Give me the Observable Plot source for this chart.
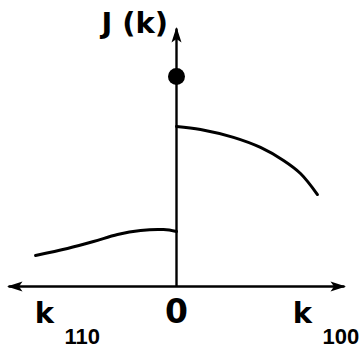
<!DOCTYPE html>
<html>
<head>
<meta charset="utf-8">
<script src="https://cdn.jsdelivr.net/npm/d3@7"></script>
<script src="https://cdn.jsdelivr.net/npm/@observablehq/plot@0.6"></script>
<style>
  html, body { margin: 0; padding: 0; background: #fff; }
  #chart svg { display: block; }
</style>
</head>
<body>
<div id="chart"></div>
<script>
// J(k) along the two crystal directions: k110 to the left, k100 to the right.
const leftK  = [0, -0.077, -0.214, -0.351, -0.494, -0.649, -0.839];
const leftJ  = [0.262, 0.271, 0.267, 0.248, 0.214, 0.181, 0.148];
const rightK = [0, 0.143, 0.339, 0.5, 0.637, 0.738, 0.839];
const rightJ = [0.762, 0.748, 0.710, 0.662, 0.600, 0.538, 0.438];

// isolated value at k = 0
const peakK = [0];
const peakJ = [1];

// axis extents
const kLimits = [-1, 1];
const jTop = 1.229;

// label text
const yLabel = "J (k)";
const originLabel = "0";
const dirLabels = ["k", "k"];
const dirSubscripts = ["110", "100"];

const left = leftK.map((k, i) => ({k, J: leftJ[i]}));
const right = rightK.map((k, i) => ({k, J: rightJ[i]}));
const peak = peakK.map((k, i) => ({k, J: peakJ[i]}));

// filled, slightly barbed arrowhead sized in pixels
const arrowHead = (color) => {
  const m = d3.create("svg:marker")
    .attr("viewBox", "-15 -6 17 12")
    .attr("refX", 0)
    .attr("refY", 0)
    .attr("markerWidth", 17)
    .attr("markerHeight", 12)
    .attr("markerUnits", "userSpaceOnUse")
    .attr("orient", "auto-start-reverse");
  m.append("path")
    .attr("d", "M1.5,0L-14,-5L-10.5,0L-14,5Z")
    .attr("fill", color)
    .attr("stroke", "none");
  return m.node();
};

const sans = "'Liberation Sans', Arial, Helvetica, sans-serif";
const wide = "'DejaVu Sans', Verdana, sans-serif";

const chart = Plot.plot({
  width: 363,
  height: 349,
  margin: 0,
  x: {domain: kLimits, range: [8, 344], axis: null},
  y: {domain: [0, 1], range: [286, 76], axis: null},
  style: {background: "#fff", fontFamily: sans},
  marks: [
    // horizontal k axis, arrows at both ends
    Plot.link([kLimits], {
      x1: d => d[0], x2: d => d[1], y1: 0, y2: 0,
      stroke: "#000", strokeWidth: 2.4,
      markerStart: arrowHead, markerEnd: arrowHead
    }),
    // vertical J axis
    Plot.link([jTop], {
      x1: 0, x2: 0, y1: 0, y2: d => d,
      stroke: "#000", strokeWidth: 2.4,
      markerEnd: arrowHead
    }),
    Plot.line(left, {x: "k", y: "J", curve: "catmull-rom", stroke: "#000", strokeWidth: 3}),
    Plot.line(right, {x: "k", y: "J", curve: "catmull-rom", stroke: "#000", strokeWidth: 3}),
    Plot.dot(peak, {x: "k", y: "J", r: 8.5, fill: "#000"}),
    // labels
    Plot.text([yLabel], {
      text: d => d, x: -0.05, y: 1.205,
      textAnchor: "end", lineAnchor: "bottom",
      fontFamily: wide, fontSize: 29, fontWeight: "bold", fill: "#000"
    }),
    Plot.text([originLabel], {
      text: d => d, x: 0, y: -0.176,
      textAnchor: "middle", lineAnchor: "bottom",
      fontFamily: wide, fontSize: 33, fontWeight: "bold", fill: "#000"
    }),
    Plot.text(dirLabels, {
      text: d => d, x: [-0.786, 0.75], y: -0.176,
      textAnchor: "middle", lineAnchor: "bottom",
      fontFamily: wide, fontSize: 29, fontWeight: "bold", fill: "#000"
    }),
    Plot.text(dirSubscripts, {
      text: d => d, x: [-0.667, 0.869], y: -0.276,
      textAnchor: "start", lineAnchor: "bottom",
      fontSize: 22, fontWeight: "bold", fill: "#000"
    })
  ]
});

document.getElementById("chart").appendChild(chart);
</script>
</body>
</html>
